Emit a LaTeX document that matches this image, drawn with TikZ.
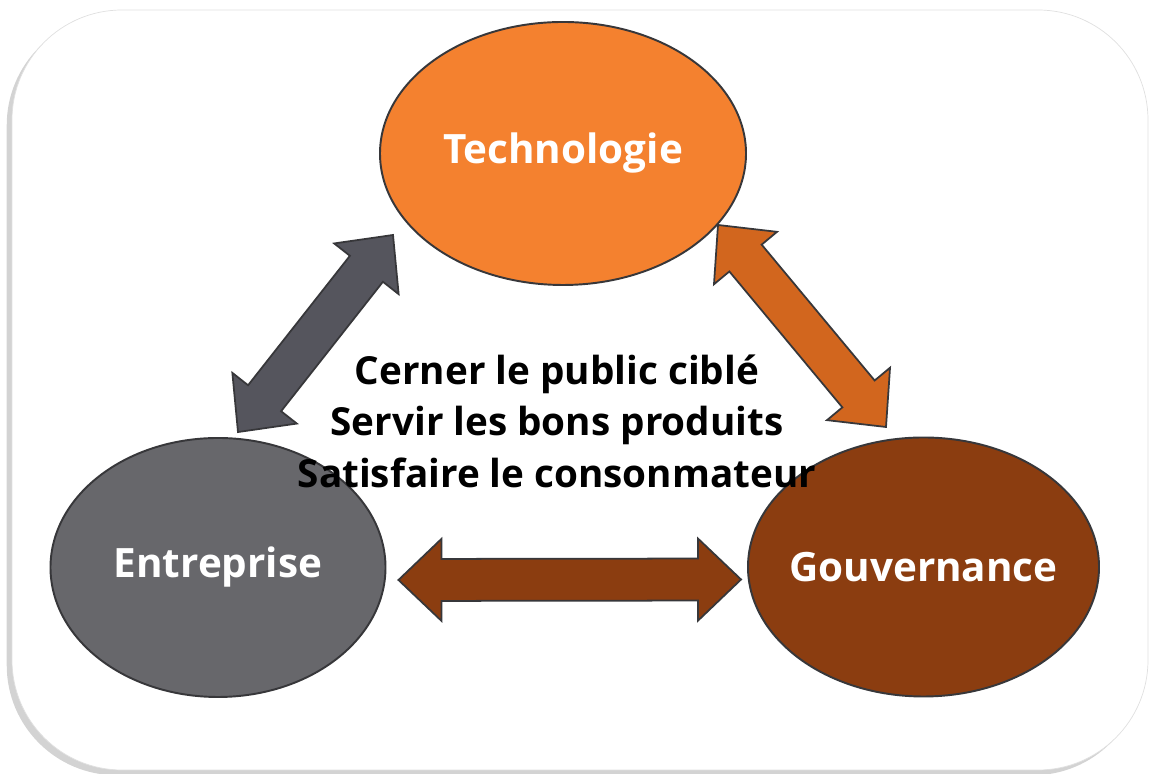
\documentclass[tikz,border=0pt]{standalone}
\usepackage{fontspec}
\setmainfont{Open Sans}
\usetikzlibrary{shapes.geometric, calc, shadows}

\definecolor{techorange}{RGB}{244,129,47}
\definecolor{entgray}{RGB}{103,103,107}
\definecolor{govbrown}{RGB}{139,61,16}
\definecolor{slatearrow}{RGB}{85,85,93}
\definecolor{rustarrow}{RGB}{210,102,30}
\definecolor{edgegray}{RGB}{55,55,58}

% block arrow with a head at both ends, #1 and #2 are the tips
\newcommand{\twoway}[3]{%
	\draw[#3, draw=edgegray, line width=1pt, line join=miter]
		(#1)
		-- ($(#1)!0.86cm!(#2)!0.82cm!90:(#2)$)
		-- ($(#1)!0.86cm!(#2)!0.42cm!90:(#2)$)
		-- ($(#2)!0.86cm!(#1)!0.42cm!-90:(#1)$)
		-- ($(#2)!0.86cm!(#1)!0.82cm!-90:(#1)$)
		-- (#2)
		-- ($(#2)!0.86cm!(#1)!0.82cm!90:(#1)$)
		-- ($(#2)!0.86cm!(#1)!0.42cm!90:(#1)$)
		-- ($(#1)!0.86cm!(#2)!0.42cm!-90:(#2)$)
		-- ($(#1)!0.86cm!(#2)!0.82cm!-90:(#2)$)
		-- cycle;}

\begin{document}
\begin{tikzpicture}[
		pole/.style={
			draw=edgegray, line width=1.1pt, ellipse, inner sep=-0.8cm,
			text=white, font=\bfseries\fontsize{23}{27}\selectfont
		},
		aim/.style={
			align=center, text=black,
			font=\bfseries\fontsize{22}{29.3}\selectfont
		},
		frame/.style={
			draw=black!12, fill=white, rounded corners=2.2cm,
			drop shadow={shadow xshift=-3pt, shadow yshift=-3pt, opacity=0.35}
		},
		]
		
		\useasboundingbox (0,0) rectangle (23.12,15.48);
		\path[frame] (0.24,0.08) rectangle (22.96,15.28);
		
		\node[pole, fill=techorange, minimum width=7.32cm, minimum height=5.26cm]
			(tech) at (11.26, 12.41) {Technologie};
		\node[pole, fill=entgray, minimum width=6.7cm, minimum height=5.18cm]
			(ent) at (4.36, 4.13) {Entreprise};
		\node[pole, fill=govbrown, minimum width=7.02cm, minimum height=5.18cm]
			(gov) at (18.47, 4.14) {Gouvernance};
		
		% arrow tips, just off the ellipses
		\coordinate (e1) at ([shift={(0.4,0.1)}]ent.north);
		\coordinate (t1) at (7.86, 10.78);
		\coordinate (t2) at (14.36, 10.98);
		\coordinate (g1) at (17.72, 6.94);
		\coordinate (e2) at ([shift={(0.24,-0.25)}]ent.east);
		\coordinate (g2) at ([shift={(-0.12,-0.25)}]gov.west);
		
		\twoway{e1}{t1}{fill=slatearrow}
		\twoway{t2}{g1}{fill=rustarrow}
		\twoway{e2}{g2}{fill=govbrown}
		
		\node[aim] (goal) at (11.14, 7.06)
			{Cerner le public ciblé\\Servir les bons produits\\Satisfaire le consonmateur};
		
	\end{tikzpicture}
\end{document}
